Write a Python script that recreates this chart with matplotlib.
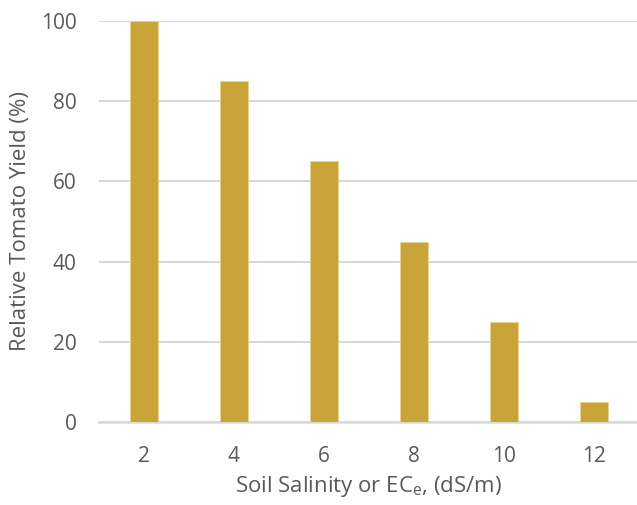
import matplotlib
matplotlib.use("Agg")
import matplotlib.pyplot as plt

salinity = ["2", "4", "6", "8", "10", "12"]
yield_pct = [100, 85, 65, 45, 25, 5]
y_ticks = [0, 20, 40, 60, 80, 100]

plt.rcParams["font.family"] = ["Open Sans", "DejaVu Sans"]
txt = "#595959"
grid = "#D9D9D9"

fig = plt.figure(figsize=(6.37, 5.05), dpi=100)
ax = fig.add_axes([99 / 637, 1 - 422 / 505, 540 / 637, 401 / 505])

x = list(range(len(salinity)))
ax.bar(x, yield_pct, width=0.32, color="#C9A539", edgecolor="#E8D38F",
       linewidth=0.6, zorder=3)

ax.set_xlim(-0.5, len(salinity) - 0.5)
ax.set_ylim(0, 100)
ax.set_yticks(y_ticks)
ax.set_xticks(x)
ax.set_xticklabels(salinity)
ax.tick_params(length=0, labelsize=15, colors=txt)
ax.tick_params(axis="y", pad=16)
ax.tick_params(axis="x", pad=17)

ax.grid(axis="y", color=grid, lw=1.5, zorder=0)
for s in ["top", "right", "left"]:
    ax.spines[s].set_visible(False)
ax.spines["bottom"].set_color(grid)
ax.spines["bottom"].set_linewidth(1.8)

ax.set_ylabel("Relative Tomato Yield (%)", fontsize=16, color=txt, labelpad=7)
ax.set_xlabel("Soil Salinity or EC$_\\mathregular{e}$, (dS/m)", fontsize=16,
              color=txt, labelpad=5)

fig.savefig("out.png", dpi=100)
